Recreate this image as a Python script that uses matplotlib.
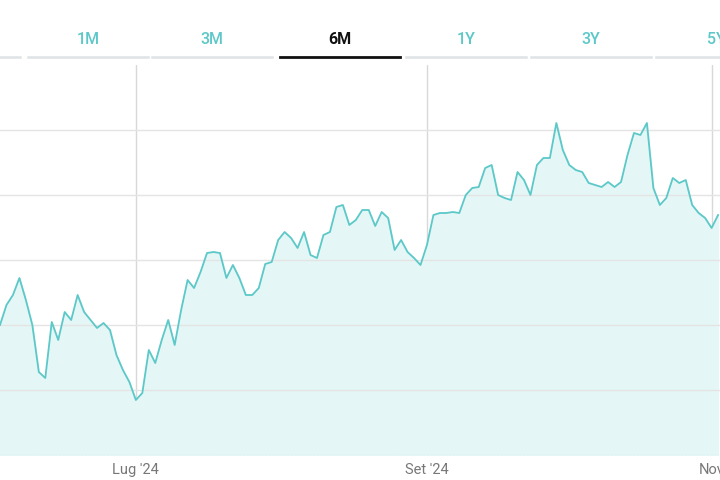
import matplotlib
matplotlib.use("Agg")
import matplotlib.pyplot as plt
import pandas as pd

# values (pixels above the baseline)
line_px = [325, 305, 295, 278, 300, 325, 372, 378, 322, 340, 312, 320, 295, 312, 320,
           328, 323, 330, 355, 370, 382, 400, 393, 350, 363, 340, 320, 345, 310, 280,
           288, 272, 253, 252, 253, 278, 265, 278, 295, 295, 288, 264, 262, 240, 232,
           238, 248, 232, 255, 258, 235, 232, 207, 205, 225, 220, 210, 210, 226, 212,
           218, 250, 240, 252, 258, 265, 245, 215, 213, 213, 212, 213, 195, 188, 187,
           168, 165, 195, 198, 200, 172, 180, 195, 165, 158, 158, 123, 150, 165, 170,
           172, 183, 185, 187, 182, 187, 182, 155, 133, 135, 123, 188, 205, 198, 178,
           183, 180, 205, 213, 218, 228, 215]
values = [455 - p for p in line_px]
dates = pd.bdate_range("2024-05-31", periods=len(values))

tabs = ["1M", "3M", "6M", "1Y", "3Y", "5Y"]
tab_x = [88, 212, 340, 466, 591, 716]
active_tab = "6M"
month_ticks = ["2024-07-01", "2024-09-02", "2024-11-01"]
month_labels = ["Lug '24", "Set '24", "Nov"]

teal = "#5cc8c8"
W, H = 720, 480
fig = plt.figure(figsize=(7.2, 4.8), dpi=100)
ax = fig.add_axes([0, 25 / H, 1, 390 / H])

# trading-day index on x, so weekends take no space
idx = list(range(len(values)))
ax.plot(idx, values, color=teal, lw=1.3)
ax.fill_between(idx, values, 0, color="#e4f6f6")
ax.set_ylim(0, 390)
ax.set_xlim(0, 111.3)
ax.set_yticks([65, 130, 195, 260, 325])
ax.grid(axis="y", color="#e4e4e4", lw=1)
tick_idx = [dates.get_loc(pd.Timestamp(d)) for d in month_ticks]
for t in tick_idx:
    ax.axvline(t, color="#d8d8d8", lw=1, zorder=0.5)
ax.set_xticks(tick_idx)
ax.set_xticklabels(month_labels, color="#777777", fontsize=10.5, family="Roboto")
ax.tick_params(length=0, pad=6, labelleft=False)
for s in ax.spines.values():
    s.set_visible(False)
ax.axhline(0, color="#dddddd", lw=1, ls=":")

# range tabs
for lab, x in zip(tabs, tab_x):
    active = lab == active_tab
    fig.text(x / W, 1 - 40 / H, lab, ha="center", va="center", fontsize=11.5,
             family="Roboto", weight="bold" if active else "medium",
             color="#111111" if active else teal)
    fig.add_artist(plt.Line2D([(x - 60) / W, (x + 60) / W], [1 - 57 / H] * 2,
                              color="#111111" if active else "#dfe3e6",
                              lw=2 if active else 1.8))
fig.add_artist(plt.Line2D([0, 20 / W], [1 - 57 / H] * 2, color="#dfe3e6", lw=1.8))

fig.savefig("out.png", dpi=100)
